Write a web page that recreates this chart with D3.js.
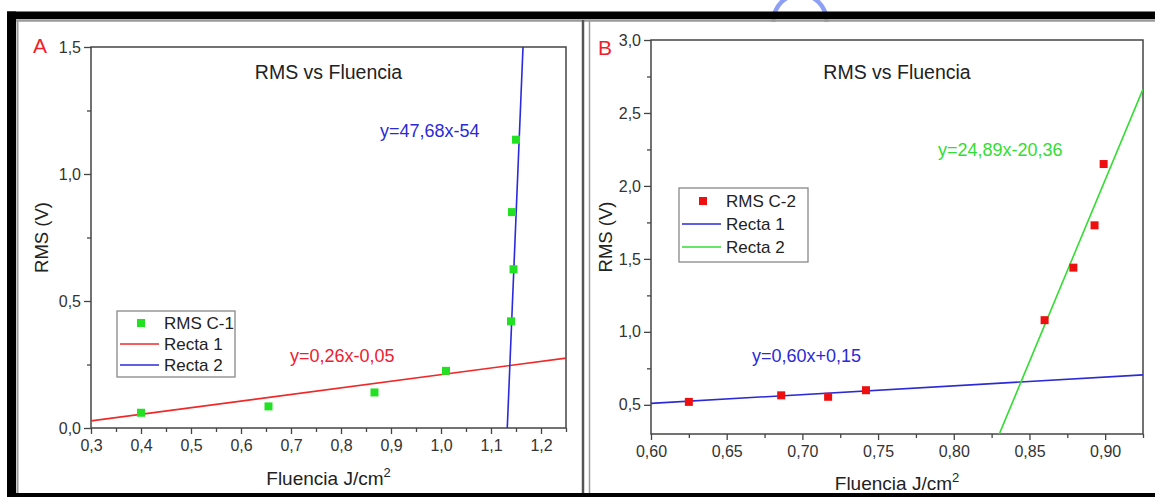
<!DOCTYPE html>
<html>
<head>
<meta charset="utf-8">
<script src="https://cdn.jsdelivr.net/npm/d3@7"></script>
<style>
  html, body { margin: 0; padding: 0; background: #fff; }
  svg { display: block; font-family: "Liberation Sans", Arial, sans-serif; }
</style>
</head>
<body>
<svg id="chart" width="1155" height="497"></svg>
<script>
// Panel A data (RMS C-1)
const fluenciaA = [0.40, 0.655, 0.867, 1.01, 1.14, 1.145, 1.142, 1.15];
const rmsA = [0.06, 0.085, 0.14, 0.225, 0.42, 0.625, 0.85, 1.135];
const rectaA1 = [0.26, -0.05];
const rectaA2 = [47.68, -54];
const xTicksA = [0.3, 0.4, 0.5, 0.6, 0.7, 0.8, 0.9, 1.0, 1.1, 1.2];
const yTicksA = [0.0, 0.5, 1.0, 1.5];

// Panel B data (RMS C-2)
const fluenciaB = [0.625, 0.686, 0.717, 0.742, 0.860, 0.879, 0.893, 0.899];
const rmsB = [0.52, 0.565, 0.555, 0.60, 1.08, 1.44, 1.73, 2.15];
const rectaB1 = [0.60, 0.15];
const rectaB2 = [24.89, -20.36];
const xTicksB = [0.60, 0.65, 0.70, 0.75, 0.80, 0.85, 0.90];
const yTicksB = [0.5, 1.0, 1.5, 2.0, 2.5, 3.0];

const loc = d3.formatLocale({decimal: ",", thousands: ".", grouping: [3], currency: ["", ""]});
const FONT = "'Liberation Sans', Arial, sans-serif";

const svg = d3.select("#chart");

// stray blue circle at top, only the part above the frame shows
svg.append("clipPath").attr("id", "topclip").append("rect")
  .attr("x", 0).attr("y", 0).attr("width", 1155).attr("height", 22);
svg.append("circle")
  .attr("cx", 800).attr("cy", 21).attr("r", 26.5)
  .attr("fill", "none").attr("stroke", "#8f9ff5").attr("stroke-width", 4.5)
  .attr("clip-path", "url(#topclip)");

// outer black frame
svg.append("rect").attr("x", 7).attr("y", 11.5).attr("width", 1148).attr("height", 7.5).attr("fill", "#000");
svg.append("rect").attr("x", 7).attr("y", 11.5).attr("width", 9).attr("height", 486).attr("fill", "#000");
svg.append("rect").attr("x", 7).attr("y", 493).attr("width", 1148).attr("height", 4).attr("fill", "#000");

// inner gray lines
svg.append("line").attr("x1", 16).attr("x2", 1155).attr("y1", 20.5).attr("y2", 20.5).attr("stroke", "#9a9a9a").attr("stroke-width", 2.5);
svg.append("line").attr("x1", 17.5).attr("x2", 17.5).attr("y1", 20).attr("y2", 493).attr("stroke", "#9a9a9a").attr("stroke-width", 2);
svg.append("line").attr("x1", 583).attr("x2", 583).attr("y1", 20).attr("y2", 493).attr("stroke", "#555").attr("stroke-width", 2.5);
svg.append("line").attr("x1", 589.5).attr("x2", 589.5).attr("y1", 20).attr("y2", 493).attr("stroke", "#9a9a9a").attr("stroke-width", 1.5);

function styleTicks(a) {
  a.attr("font-size", 16).attr("font-family", FONT);
  a.select(".domain").remove();
  a.selectAll("line").attr("stroke", "#444").attr("stroke-width", 1.3);
  a.selectAll("text").style("font-size", "16px").style("font-family", FONT).attr("fill", "#333");
}

function panel(cfg) {
  const x = d3.scaleLinear().domain(cfg.xDomain).range([cfg.left, cfg.right]);
  const y = d3.scaleLinear().domain(cfg.yDomain).range([cfg.bottom, cfg.top]);
  const g = svg.append("g");

  const clipId = "clip" + cfg.name;
  g.append("clipPath").attr("id", clipId).append("rect")
    .attr("x", cfg.left).attr("y", cfg.top)
    .attr("width", cfg.right - cfg.left).attr("height", cfg.bottom - cfg.top);

  // minor ticks
  g.append("g").attr("transform", `translate(0,${cfg.bottom})`)
    .call(d3.axisBottom(x).tickValues(cfg.xMinor).tickSize(4).tickFormat(""))
    .call(styleTicks);
  g.append("g").attr("transform", `translate(${cfg.left},0)`)
    .call(d3.axisLeft(y).tickValues(cfg.yMinor).tickSize(4).tickFormat(""))
    .call(styleTicks);

  // major ticks + labels
  g.append("g").attr("transform", `translate(0,${cfg.bottom})`)
    .call(d3.axisBottom(x).tickValues(cfg.xTicks).tickSize(6).tickPadding(6).tickFormat(loc.format(cfg.xFmt)))
    .call(styleTicks);
  g.append("g").attr("transform", `translate(${cfg.left},0)`)
    .call(d3.axisLeft(y).tickValues(cfg.yTicks).tickSize(7).tickPadding(3).tickFormat(loc.format(".1f")))
    .call(styleTicks);

  // plot frame
  g.append("rect")
    .attr("x", cfg.left).attr("y", cfg.top)
    .attr("width", cfg.right - cfg.left).attr("height", cfg.bottom - cfg.top)
    .attr("fill", "none").attr("stroke", "#444").attr("stroke-width", 1.5);

  // fit lines
  const lineGen = d3.line().x(d => x(d[0])).y(d => y(d[1]));
  const lines = g.append("g").attr("clip-path", `url(#${clipId})`);
  cfg.fits.forEach(f => {
    const pts = cfg.xDomain.map(v => [v, f.coef[0] * v + f.coef[1]]);
    lines.append("path").attr("d", lineGen(pts))
      .attr("fill", "none").attr("stroke", f.color).attr("stroke-width", 1.6);
  });

  // data points
  g.append("g").selectAll("rect")
    .data(cfg.xs.map((v, i) => [v, cfg.ys[i]]))
    .join("rect")
    .attr("x", d => x(d[0]) - 4).attr("y", d => y(d[1]) - 4)
    .attr("width", 8).attr("height", 8)
    .attr("fill", cfg.pointColor);

  // title and axis labels
  g.append("text").attr("x", (cfg.left + cfg.right) / 2).attr("y", cfg.titleY)
    .attr("text-anchor", "middle").style("font-size", "19.5px").attr("fill", "#222")
    .text("RMS vs Fluencia");

  const xl = g.append("text").attr("x", (cfg.left + cfg.right) / 2).attr("y", cfg.xLabelY)
    .attr("text-anchor", "middle").style("font-size", "19px").attr("fill", "#222");
  xl.append("tspan").text("Fluencia J/cm");
  xl.append("tspan").style("font-size", "13px").attr("dy", -8).text("2");

  g.append("text")
    .attr("transform", `translate(${cfg.yLabelX},${(cfg.top + cfg.bottom) / 2}) rotate(-90)`)
    .attr("text-anchor", "middle").style("font-size", "18.5px").attr("fill", "#222")
    .text("RMS (V)");

  // panel letter
  g.append("text").attr("x", cfg.letterX).attr("y", cfg.letterY)
    .style("font-size", "21px").attr("fill", "#f0202a").text(cfg.name);

  // equations
  cfg.equations.forEach(e => {
    g.append("text").attr("x", e.x).attr("y", e.y)
      .style("font-size", "18px").attr("fill", e.color).text(e.text);
  });

  // legend
  const lg = g.append("g");
  lg.append("rect").attr("x", cfg.legend.x).attr("y", cfg.legend.y)
    .attr("width", cfg.legend.w).attr("height", cfg.legend.h)
    .attr("fill", "#fff").attr("stroke", "#888").attr("stroke-width", 1.3);
  const items = [
    {label: cfg.seriesName, type: "sq", color: cfg.pointColor},
    {label: "Recta 1", type: "ln", color: cfg.fits[0].color},
    {label: "Recta 2", type: "ln", color: cfg.fits[1].color}
  ];
  items.forEach((it, i) => {
    const cy = cfg.legend.y + cfg.legend.first + i * cfg.legend.step;
    if (it.type === "sq") {
      lg.append("rect").attr("x", cfg.legend.x + 20).attr("y", cy - 4)
        .attr("width", 8).attr("height", 8).attr("fill", it.color);
    } else {
      lg.append("line").attr("x1", cfg.legend.x + 3).attr("x2", cfg.legend.x + 42)
        .attr("y1", cy).attr("y2", cy).attr("stroke", it.color).attr("stroke-width", 1.6);
    }
    lg.append("text").attr("x", cfg.legend.x + 47).attr("y", cy + 6)
      .style("font-size", "17px").attr("fill", "#222").text(it.label);
  });
}

panel({
  name: "A", left: 91, right: 566, top: 47, bottom: 428,
  xDomain: [0.3, 1.25], yDomain: [0, 1.5],
  xTicks: xTicksA, yTicks: yTicksA, xFmt: ".1f",
  xMinor: d3.range(0.35, 1.26, 0.1), yMinor: [0.25, 0.75, 1.25],
  xs: fluenciaA, ys: rmsA, pointColor: "#22e022", seriesName: "RMS C-1",
  fits: [{coef: rectaA1, color: "#f02828"}, {coef: rectaA2, color: "#2a2ae0"}],
  titleY: 79, xLabelY: 485, yLabelX: 48,
  letterX: 33, letterY: 53,
  equations: [
    {text: "y=0,26x-0,05", x: 290, y: 362, color: "#ee2030"},
    {text: "y=47,68x-54", x: 380, y: 137, color: "#2a2ad8"}
  ],
  legend: {x: 117, y: 311, w: 118, h: 66, first: 12, step: 21}
});

panel({
  name: "B", left: 651, right: 1143, top: 40, bottom: 434,
  xDomain: [0.6, 0.925], yDomain: [0.3, 3.0],
  xTicks: xTicksB, yTicks: yTicksB, xFmt: ".2f",
  xMinor: d3.range(0.625, 0.926, 0.05), yMinor: [0.75, 1.25, 1.75, 2.25, 2.75],
  xs: fluenciaB, ys: rmsB, pointColor: "#ee1010", seriesName: "RMS C-2",
  fits: [{coef: rectaB1, color: "#2a2ad8"}, {coef: rectaB2, color: "#33dd33"}],
  titleY: 79, xLabelY: 490, yLabelX: 612,
  letterX: 598, letterY: 55,
  equations: [
    {text: "y=0,60x+0,15", x: 752, y: 362, color: "#2a2ad8"},
    {text: "y=24,89x-20,36", x: 938, y: 156, color: "#33dd33"}
  ],
  legend: {x: 679, y: 188, w: 129, h: 74, first: 13, step: 23}
});
</script>
</body>
</html>
